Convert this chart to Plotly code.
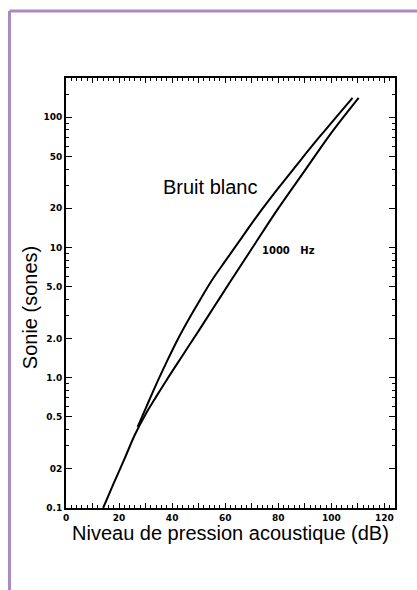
import plotly.graph_objects as go
import math

# Data
bruit_db = [27, 30, 34, 38, 42, 46, 50, 55, 60, 66, 72, 80, 88, 96, 108]
bruit_sones = [0.42, 0.58, 0.89, 1.33, 1.95, 2.75, 3.8, 5.6, 7.85, 11.7, 17.4, 28.5, 45.7, 72.4, 141]

hz1000_db = [14, 18, 22, 26, 30, 34, 38, 44, 50, 56, 62, 70, 80, 90, 100, 110.3]
hz1000_sones = [0.10, 0.155, 0.237, 0.367, 0.525, 0.716, 0.966, 1.49, 2.29, 3.55, 5.5, 9.77, 19.95, 38.9, 75.9, 141]

x_tickvals = [0, 10, 20, 30, 40, 50, 60, 70, 80, 90, 100, 110, 120]
x_ticktext = ["0", "", "20", "", "40", "", "60", "", "80", "", "100", "", "120"]
y_tickvals = [0.1, 0.2, 0.5, 1, 2, 5, 10, 20, 50, 100]
y_ticktext = ["0.1", "02", "0.5", "1.0", "2.0", "5.0", "10", "20", "50", "100"]
y_minor = [0.3, 0.4, 0.6, 0.7, 0.8, 0.9, 3, 4, 6, 7, 8, 9, 30, 40, 60, 70, 80, 90, 150]

fig = go.Figure()
fig.add_trace(go.Scatter(x=bruit_db, y=bruit_sones, mode="lines",
                         line=dict(color="black", width=2, shape="spline", smoothing=1.0),
                         showlegend=False, hoverinfo="skip"))
fig.add_trace(go.Scatter(x=hz1000_db, y=hz1000_sones, mode="lines",
                         line=dict(color="black", width=2, shape="spline", smoothing=1.0),
                         showlegend=False, hoverinfo="skip"))

tickfont = dict(family="DejaVu Sans", size=9, color="black", weight="bold")

fig.update_xaxes(range=[0, 124], tickmode="array", tickvals=x_tickvals, ticktext=x_ticktext,
                 ticks="inside", ticklen=5, tickwidth=1, tickcolor="black",
                 showline=True, linecolor="black", linewidth=2, mirror="ticks",
                 showgrid=False, zeroline=False, tickfont=tickfont,
                 minor=dict(tickmode="linear", tick0=0, dtick=2, ticks="inside", ticklen=3,
                            tickcolor="black", tickwidth=1, showgrid=False))
fig.update_yaxes(type="log", range=[-1, math.log10(200)], tickmode="array",
                 tickvals=y_tickvals, ticktext=y_ticktext,
                 ticks="inside", ticklen=6, tickwidth=1, tickcolor="black",
                 showline=True, linecolor="black", linewidth=2, mirror="ticks",
                 showgrid=False, zeroline=False, tickfont=tickfont,
                 minor=dict(tickmode="array", tickvals=y_minor, ticks="inside", ticklen=3,
                            tickcolor="black", tickwidth=1, showgrid=False))

titlefont = dict(family="Liberation Sans, Arial", size=20, color="black")
fig.add_annotation(x=54.3, y=math.log10(29), xref="x", yref="y", text="Bruit blanc",
                   xanchor="center", yanchor="middle", showarrow=False, font=titlefont)
fig.add_annotation(x=83.8, y=math.log10(9.5), xref="x", yref="y", text="1000&nbsp;&nbsp;&nbsp;Hz",
                   xanchor="center", yanchor="middle", showarrow=False,
                   font=dict(family="DejaVu Sans", size=10, color="black", weight="bold"))
fig.add_annotation(x=0.5015, y=-0.058, xref="paper", yref="paper",
                   xanchor="center", yanchor="middle",
                   text="Niveau de pression acoustique (dB)", showarrow=False, font=titlefont)
fig.add_annotation(x=-0.109, y=0.465, xref="paper", yref="paper", text="Sonie (sones)",
                   xanchor="center", yanchor="middle",
                   textangle=-90, showarrow=False, font=titlefont)

# Purple frame
frame_color = "#a98ac6"
fig.add_shape(type="line", xref="paper", yref="paper", x0=-0.1717, x1=1.2, y0=1.1558, y1=1.1558,
              line=dict(color=frame_color, width=3))
fig.add_shape(type="line", xref="paper", yref="paper", x0=-0.1717, x1=-0.1717, y0=-0.25, y1=1.1558,
              line=dict(color=frame_color, width=3))

fig.update_layout(width=417, height=590, margin=dict(l=66, r=22, t=78, b=82),
                  plot_bgcolor="white", paper_bgcolor="white")

fig.write_html("out.html")
